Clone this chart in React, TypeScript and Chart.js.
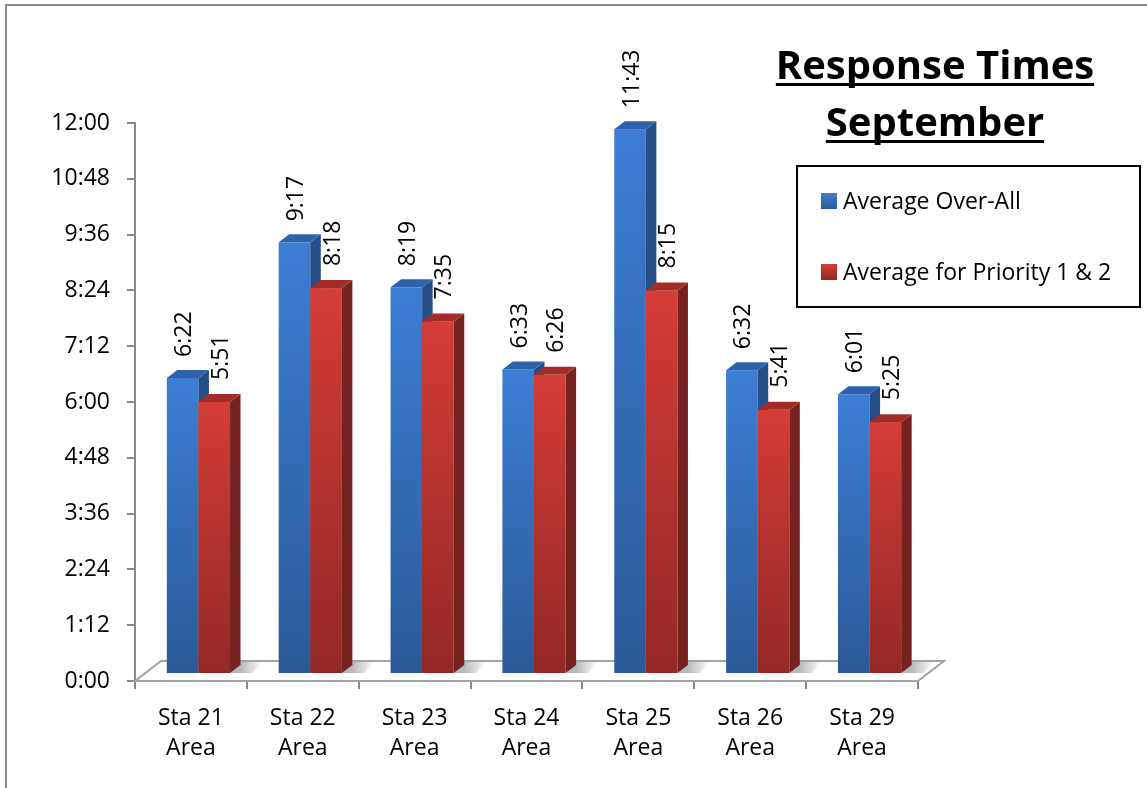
import React, { useEffect, useRef } from "react";
import { Chart, registerables } from "chart.js";

Chart.register(...registerables);

// ---------- data ----------
const CATEGORIES: string[][] = [
  ["Sta 21", "Area"],
  ["Sta 22", "Area"],
  ["Sta 23", "Area"],
  ["Sta 24", "Area"],
  ["Sta 25", "Area"],
  ["Sta 26", "Area"],
  ["Sta 29", "Area"],
];
const SERIES_NAMES = ["Average Over-All", "Average for Priority 1 & 2"];
const OVERALL_TIMES = ["6:22", "9:17", "8:19", "6:33", "11:43", "6:32", "6:01"];
const PRIORITY_TIMES = ["5:51", "8:18", "7:35", "6:26", "8:15", "5:41", "5:25"];
const Y_MAX = "12:00";
const Y_STEP = "1:12";
const TITLE_LINES = ["Response Times", "September"];

// ---------- helpers ----------
const toSec = (t: string) => {
  const [m, s] = t.split(":").map(Number);
  return m * 60 + s;
};
const fmt = (v: number) => {
  const r = Math.round(v);
  return `${Math.floor(r / 60)}:${String(r % 60).padStart(2, "0")}`;
};

const FONT = "'Open Sans', sans-serif";
const AXIS_GRAY = "#878787";
const PALETTE = [
  { top: "#3c7ed4", bottom: "#2b5a97", lid: "#2e63ab", side: "#264f87" },
  { top: "#d43d38", bottom: "#942826", lid: "#a32c29", side: "#762221" },
];
const SHIFT = { x: 7.5, y: -7 };
const DEPTH = { x: 10.5, y: -8 };
const FLOOR = { x: 26, y: -20 };

const bars3d = {
  id: "bars3d",
  beforeDatasetsDraw(chart: any) {
    const { ctx, chartArea: ca } = chart;
    ctx.save();
    // floor
    ctx.beginPath();
    ctx.moveTo(ca.left, ca.bottom);
    ctx.lineTo(ca.right, ca.bottom);
    ctx.lineTo(ca.right + FLOOR.x, ca.bottom + FLOOR.y);
    ctx.lineTo(ca.left + FLOOR.x, ca.bottom + FLOOR.y);
    ctx.closePath();
    ctx.fillStyle = "#ffffff";
    ctx.fill();
    ctx.strokeStyle = "#a3a3a3";
    ctx.lineWidth = 2;
    ctx.stroke();

    const metas = [chart.getDatasetMeta(0), chart.getDatasetMeta(1)];
    const n = metas[0].data.length;

    // soft shadows on floor
    for (let i = 0; i < n; i++) {
      const last = metas[1].data[i].getProps(["x", "base", "width"], true);
      const xR = last.x + last.width / 2 + SHIFT.x + DEPTH.x;
      const b = last.base + SHIFT.y + DEPTH.y;
      const g = ctx.createLinearGradient(xR, 0, xR + 22, 0);
      g.addColorStop(0, "rgba(0,0,0,0.28)");
      g.addColorStop(1, "rgba(0,0,0,0)");
      ctx.fillStyle = g;
      ctx.beginPath();
      ctx.moveTo(xR - DEPTH.x, b - DEPTH.y);
      ctx.lineTo(xR + 22 - DEPTH.x, b - DEPTH.y);
      ctx.lineTo(xR + 22, b - 3);
      ctx.lineTo(xR, b - 3);
      ctx.closePath();
      ctx.fill();
    }

    // bars
    for (let i = 0; i < n; i++) {
      for (let d = 0; d < metas.length; d++) {
        const el = metas[d].data[i];
        const { x, y, base, width } = el.getProps(["x", "y", "base", "width"], true);
        const c = PALETTE[d];
        const xL = x - width / 2 + SHIFT.x;
        const xR = x + width / 2 + SHIFT.x;
        const top = y + SHIFT.y;
        const bot = base + SHIFT.y;
        // front
        const g = ctx.createLinearGradient(0, top, 0, bot);
        g.addColorStop(0, c.top);
        g.addColorStop(1, c.bottom);
        ctx.fillStyle = g;
        ctx.fillRect(xL, top, xR - xL, bot - top);
        // side
        ctx.fillStyle = c.side;
        ctx.beginPath();
        ctx.moveTo(xR, top);
        ctx.lineTo(xR + DEPTH.x, top + DEPTH.y);
        ctx.lineTo(xR + DEPTH.x, bot + DEPTH.y);
        ctx.lineTo(xR, bot);
        ctx.closePath();
        ctx.fill();
        // lid
        ctx.fillStyle = c.lid;
        ctx.beginPath();
        ctx.moveTo(xL, top);
        ctx.lineTo(xR, top);
        ctx.lineTo(xR + DEPTH.x, top + DEPTH.y);
        ctx.lineTo(xL + DEPTH.x, top + DEPTH.y);
        ctx.closePath();
        ctx.fill();
      }
    }

    // value labels
    ctx.fillStyle = "#000";
    ctx.font = `23px ${FONT}`;
    ctx.textAlign = "left";
    ctx.textBaseline = "middle";
    const labelOffsets = [
      { dx: 1, gap: 21 },
      { dx: 6, gap: 22 },
    ];
    for (let d = 0; d < metas.length; d++) {
      const ds = chart.data.datasets[d];
      metas[d].data.forEach((el: any, i: number) => {
        const { x, y } = el.getProps(["x", "y"], true);
        ctx.save();
        ctx.translate(x + SHIFT.x + labelOffsets[d].dx, y + SHIFT.y - labelOffsets[d].gap);
        ctx.rotate(-Math.PI / 2);
        ctx.fillText(fmt(ds.data[i]), 0, 1);
        ctx.restore();
      });
    }
    ctx.restore();
    return false;
  },
  afterDraw(chart: any) {
    const { ctx } = chart;
    ctx.save();
    // outer frame
    ctx.strokeStyle = "#8c8c8c";
    ctx.lineWidth = 2;
    ctx.beginPath();
    ctx.moveTo(6, 800);
    ctx.lineTo(6, 5);
    ctx.lineTo(1160, 5);
    ctx.stroke();

    // title
    ctx.fillStyle = "#000";
    ctx.font = `bold 40px ${FONT}`;
    ctx.textAlign = "center";
    ctx.textBaseline = "alphabetic";
    const tx = 935;
    const baselines = [79, 136];
    TITLE_LINES.forEach((t, k) => {
      ctx.fillText(t, tx, baselines[k]);
      const w = ctx.measureText(t).width;
      ctx.fillRect(tx - w / 2, baselines[k] + 4, w, 3);
    });

    // legend
    ctx.strokeStyle = "#000";
    ctx.lineWidth = 2;
    ctx.strokeRect(797, 166, 343, 141);
    ctx.font = `23px ${FONT}`;
    ctx.textAlign = "left";
    ctx.textBaseline = "middle";
    const rows = [201, 272];
    chart.data.datasets.forEach((ds: any, k: number) => {
      const c = PALETTE[k];
      const yC = rows[k];
      const g = ctx.createLinearGradient(0, yC - 8, 0, yC + 8);
      g.addColorStop(0, c.top);
      g.addColorStop(1, c.bottom);
      ctx.fillStyle = g;
      ctx.fillRect(821, yC - 8, 16, 16);
      ctx.fillStyle = "#000";
      ctx.fillText(ds.label, 843, yC + 1);
    });
    ctx.restore();
  },
};

export default function App() {
  const ref = useRef<HTMLCanvasElement>(null);
  useEffect(() => {
    if (!ref.current) return;
    Chart.defaults.font.family = FONT;
    const chart = new Chart(ref.current, {
      type: "bar",
      data: {
        labels: CATEGORIES,
        datasets: [
          { label: SERIES_NAMES[0], data: OVERALL_TIMES.map(toSec), backgroundColor: PALETTE[0].top },
          { label: SERIES_NAMES[1], data: PRIORITY_TIMES.map(toSec), backgroundColor: PALETTE[1].top },
        ],
      },
      options: {
        responsive: false,
        animation: false,
        devicePixelRatio: 1,
        layout: { padding: { top: 123, right: 229, left: 0, bottom: 0 } },
        datasets: { bar: { categoryPercentage: 0.565, barPercentage: 1 } },
        plugins: {
          legend: { display: false },
          title: { display: false },
          tooltip: { enabled: false },
        },
        scales: {
          x: {
            grid: { drawOnChartArea: false, tickLength: 8, color: AXIS_GRAY, lineWidth: 2, offset: true },
            border: { display: true, color: AXIS_GRAY, width: 2 },
            ticks: { color: "#000", font: { size: 23, lineHeight: 1.33 }, padding: 14, maxRotation: 0, autoSkip: false },
            afterFit: (s: any) => {
              s.height = 107;
            },
          },
          y: {
            min: 0,
            max: toSec(Y_MAX),
            grid: { drawOnChartArea: false, tickLength: 8, color: AXIS_GRAY, lineWidth: 2 },
            border: { display: true, color: AXIS_GRAY, width: 2 },
            ticks: {
              stepSize: toSec(Y_STEP),
              color: "#000",
              font: { size: 23 },
              padding: 17,
              callback: (v: any) => fmt(Number(v)),
            },
            afterFit: (s: any) => {
              s.width = 135;
            },
          },
        },
      },
      plugins: [bars3d],
    });
    return () => chart.destroy();
  }, []);
  return (
    <div style={{ position: "fixed", left: 0, top: 0, width: 1147, height: 788, background: "#fff" }}>
      <canvas ref={ref} width={1147} height={788} style={{ display: "block" }} />
    </div>
  );
}
